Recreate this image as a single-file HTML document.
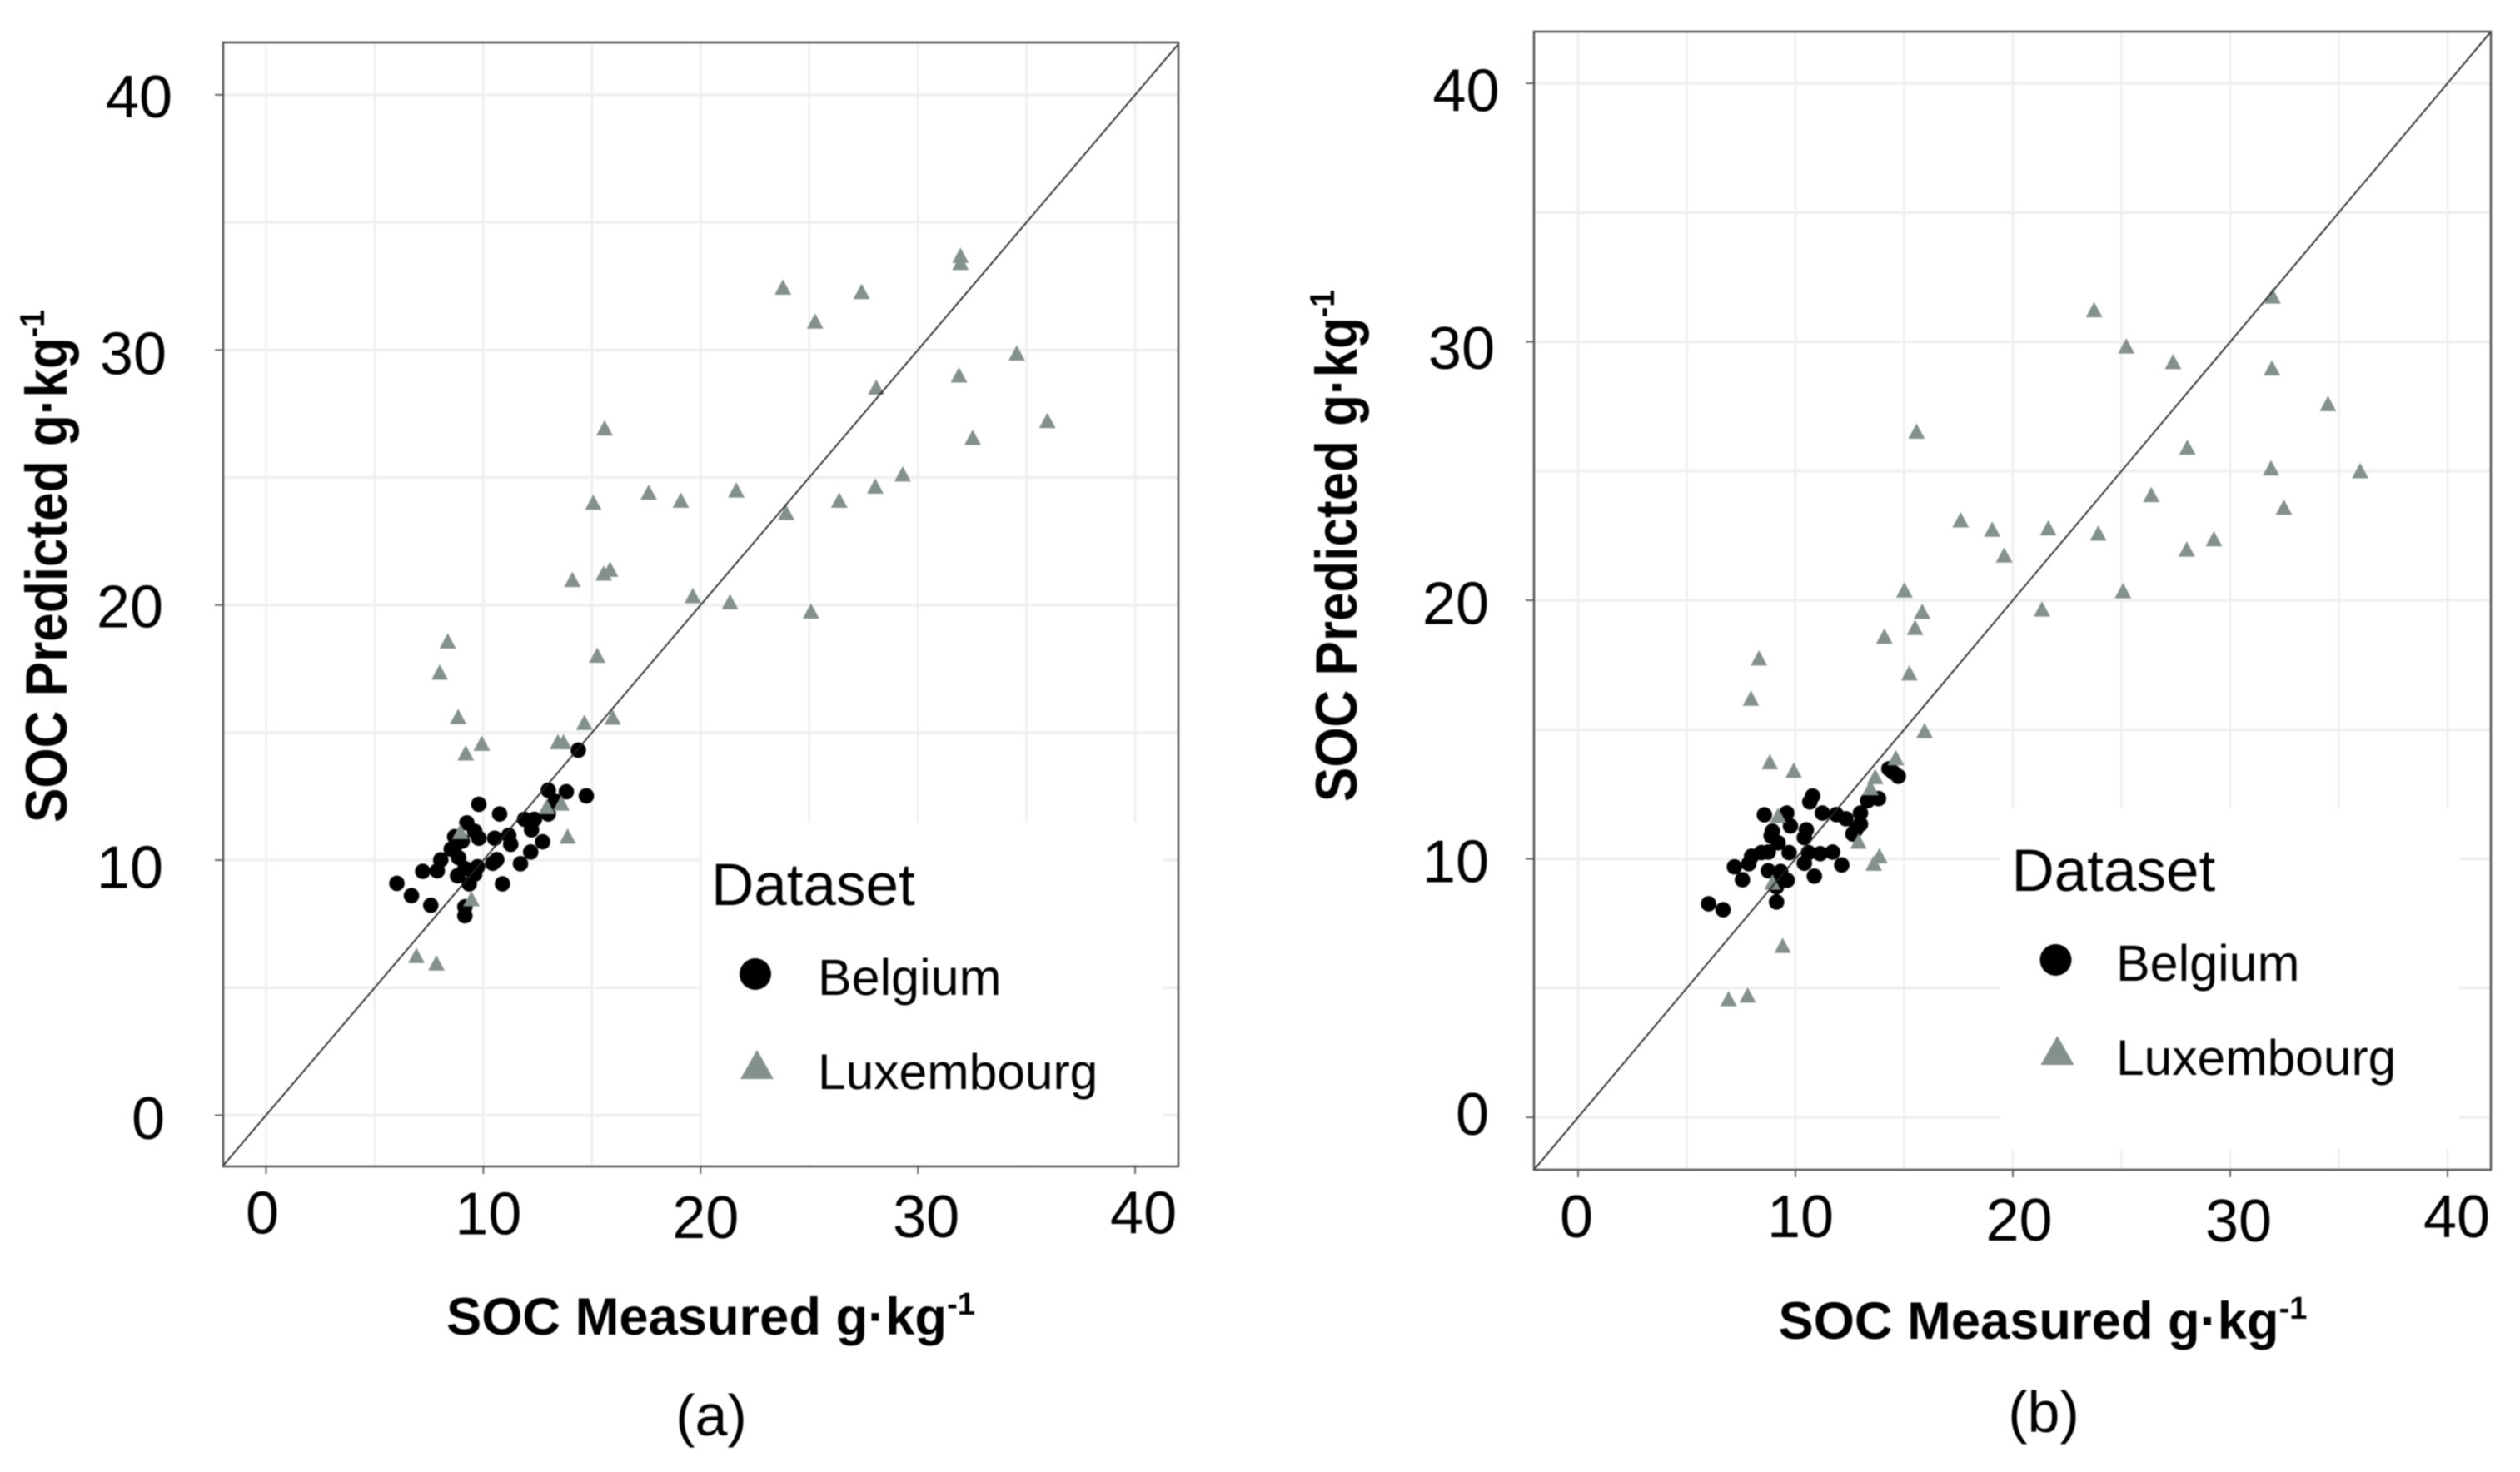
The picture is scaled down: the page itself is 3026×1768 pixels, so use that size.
<!DOCTYPE html>
<html lang="en">
<head>
<meta charset="utf-8">
<title>SOC measured vs predicted</title>
<style>
html,body{margin:0;padding:0;background:#fff;}
svg{display:block;filter:blur(0.7px);}
text{font-family:"Liberation Sans",sans-serif;fill:#000;}
</style>
</head>
<body>
<svg id="chart" xmlns="http://www.w3.org/2000/svg" width="3026" height="1768" viewBox="0 0 3026 1768">
<rect width="3026" height="1768" fill="#fff"/>
<g id="panel-a"></g>
<g id="panel-b"></g>
</svg>
<script>
// ---------- data ----------
const axisTicks = [0, 10, 20, 30, 40];
const gridValues = [0, 5, 10, 15, 20, 25, 30, 35, 40];

const belgiumAX = [6.02,6.69,7.58,7.21,7.88,8.04,8.52,8.68,8.77,9.03,8.86,8.81,9.15,9.47,9.73,9.60,9.35,9.15,9.15,9.79,9.24,9.60,9.79,10.52,10.75,11.17,11.26,10.62,10.43,10.88,11.71,12.18,12.73,11.90,12.35,12.22,12.99,12.99,13.82,13.31,14.74,14.37];
const belgiumAY = [9.09,8.61,8.23,9.56,9.58,10.01,10.43,10.92,10.65,10.75,10.10,9.39,9.67,9.61,9.74,9.45,9.07,8.17,7.82,12.19,11.46,11.13,10.86,10.86,11.81,10.97,10.62,10.02,9.88,9.07,9.86,10.32,10.72,11.60,11.60,11.19,11.81,12.74,12.68,12.30,12.52,14.31];
const luxembourgAX = [31.96,31.96,23.79,27.41,25.27,34.55,31.89,28.08,15.58,35.96,32.52,29.30,28.04,17.61,21.64,19.09,15.06,26.38,23.94,14.10,15.54,15.83,19.64,21.35,25.08,8.36,15.24,7.99,8.84,14.65,15.95,9.19,9.93,13.43,13.69,12.92,13.59,13.88,8.94,9.45,6.92,7.84];
const luxembourgAY = [33.69,33.41,32.44,32.27,31.11,29.86,29.00,28.52,26.92,27.21,26.55,25.12,24.64,24.40,24.49,24.09,24.01,24.09,23.61,20.98,21.23,21.38,20.35,20.11,19.74,18.57,18.01,17.35,15.61,15.38,15.59,14.18,14.56,14.62,14.62,12.08,12.22,10.92,11.10,8.47,6.24,5.95];

const belgiumBX = [6.00,6.67,7.19,7.56,7.85,7.98,8.43,8.75,8.57,9.60,9.77,8.94,8.88,9.20,9.71,8.75,9.32,9.20,9.62,9.13,9.13,10.41,10.60,11.14,11.71,12.13,10.87,10.50,10.41,10.79,10.66,11.24,11.88,12.32,12.99,12.99,12.77,12.64,13.32,13.82,14.30,14.50,14.73];
const belgiumBY = [8.26,8.03,9.69,9.19,9.81,10.10,10.24,10.26,11.70,11.77,11.27,11.07,10.89,10.62,10.24,9.54,9.51,9.30,9.17,8.92,8.33,9.83,10.24,10.20,10.26,9.76,9.33,11.12,10.82,12.43,12.20,11.77,11.71,11.55,11.77,11.34,11.12,10.96,12.25,12.33,13.48,13.34,13.19];
const luxembourgBX = [31.95,23.74,25.22,27.37,31.92,34.50,15.57,28.03,31.88,35.98,26.37,32.47,17.60,19.05,21.63,23.93,29.25,28.00,19.60,15.01,25.07,21.34,15.83,15.50,14.09,8.32,15.24,7.95,15.94,8.82,9.92,14.62,13.67,13.45,9.20,12.90,13.86,13.60,8.94,9.41,6.92,7.80];
const luxembourgBY = [31.75,31.22,29.82,29.21,28.97,27.59,26.52,25.90,25.10,24.99,24.07,23.58,23.09,22.73,22.78,22.58,22.36,21.96,21.73,20.38,20.35,19.64,19.55,18.93,18.59,17.75,17.17,16.19,14.94,13.73,13.40,13.89,13.16,12.73,11.66,10.66,10.10,9.81,9.08,6.63,4.57,4.71];

// ---------- layout ----------
const NS = 'http://www.w3.org/2000/svg';
const panelA = {
  root: 'panel-a', caption: '(a)',
  belgiumX: belgiumAX, belgiumY: belgiumAY, luxX: luxembourgAX, luxY: luxembourgAY,
  left: 268, right: 1415, top: 51, bottom: 1401,
  x0: 319.5, xUnit: 26.09, y0: 1339.5, yUnit: 30.64,
  legendBox: [843, 988, 553, 410],
  yLabelRight: [198, 196, 196, 200, 207],
  yLabelDrop: [28.5, 33.5, 27, 29, 27],
  xLabelShift: [-4.5, 6, 6, 10, 10],
  xLabelBase: [1481.5, 1482.5, 1487, 1486, 1481.5],
  xTitle: [536, 1603, 635], yTitle: [80, 988, 616], captionPos: [854, 1724],
  legend: { titleX: 854, titleY: 1087, labelX: 982, belgiumY: 1195, luxY: 1308, circle: [907, 1170], tri: [909, 1279] }
};
const panelB = {
  root: 'panel-b', caption: '(b)',
  belgiumX: belgiumBX, belgiumY: belgiumBY, luxX: luxembourgBX, luxY: luxembourgBY,
  left: 1842, right: 2991, top: 38, bottom: 1405,
  x0: 1895, xUnit: 26.1, y0: 1342, yUnit: 31.05,
  legendBox: [2401, 971, 552, 409],
  yLabelRight: [1788, 1788, 1788, 1795, 1800.5],
  yLabelDrop: [21, 28, 28.6, 32.5, 33.6],
  xLabelShift: [-2, 6, 7.5, 10, 11],
  xLabelBase: [1486, 1486, 1490, 1491, 1486],
  xTitle: [2135.5, 1608, 635], yTitle: [1629, 963, 615], captionPos: [2454, 1720],
  legend: { titleX: 2415.5, titleY: 1070, labelX: 2541, belgiumY: 1178, luxY: 1291, circle: [2468.5, 1153], tri: [2470.5, 1262] }
};

function make(parent, tag, attrs, text) {
  const el = document.createElementNS(NS, tag);
  for (const k in attrs) el.setAttribute(k, attrs[k]);
  if (text !== undefined) el.textContent = text;
  parent.appendChild(el);
  return el;
}

function trianglePoints(cx, cy, halfW, up, down) {
  return (cx - halfW) + ',' + (cy + down) + ' ' + (cx + halfW) + ',' + (cy + down) + ' ' + cx + ',' + (cy - up);
}

function drawPanel(p) {
  const root = document.getElementById(p.root);
  const sx = v => p.x0 + p.xUnit * v;
  const sy = v => p.y0 - p.yUnit * v;

  // gridlines
  gridValues.forEach(v => {
    const gx = make(root, 'line', { x1: sx(v), x2: sx(v), y1: p.top, y2: p.bottom, stroke: '#eeeeee', 'stroke-width': 2.5 });
    
    
    const gy = make(root, 'line', { x1: p.left, x2: p.right, y1: sy(v), y2: sy(v), stroke: '#efefef', 'stroke-width': 3.5 });
    
    
  });

  // legend background
  const lb = make(root, 'rect', { x: p.legendBox[0], y: p.legendBox[1], width: p.legendBox[2], height: p.legendBox[3], fill: '#fff' });
  
  

  // ticks and tick labels
  axisTicks.forEach((v, i) => {
    const ty = make(root, 'line', { x1: p.left - 10, x2: p.left, y1: sy(v), y2: sy(v), stroke: '#666', 'stroke-width': 2 });
    
    
    const tx = make(root, 'line', { x1: sx(v), x2: sx(v), y1: p.bottom, y2: p.bottom + 9, stroke: '#666', 'stroke-width': 2 });
    
    
    const ly = make(root, 'text', { x: p.yLabelRight[i], y: sy(v) + p.yLabelDrop[i], 'text-anchor': 'end', 'font-size': 72 }, String(v));
    
    
    const lx = make(root, 'text', { x: sx(v) + p.xLabelShift[i], y: p.xLabelBase[i], 'text-anchor': 'middle', 'font-size': 72 }, String(v));
    
    
  });

  // Belgium points
  p.belgiumX.forEach((x, i) => {
    const c = make(root, 'circle', { cx: sx(x), cy: sy(p.belgiumY[i]), r: 9.3, fill: '#000' });
    
    
  });

  // Luxembourg points
  p.luxX.forEach((x, i) => {
    const t = make(root, 'polygon', { points: trianglePoints(sx(x), sy(p.luxY[i]), 10, 10, 8.5), fill: '#84918a' });
    
    
  });

  // identity line
  const lo = (p.left - p.x0) / p.xUnit;
  const hi = (p.right - p.x0) / p.xUnit;
  const d = make(root, 'line', { x1: sx(lo), y1: sy(lo), x2: sx(hi), y2: sy(hi), stroke: '#222', 'stroke-width': 1.8 });
  
  

  // border
  const b = make(root, 'rect', { x: p.left, y: p.top, width: p.right - p.left, height: p.bottom - p.top, fill: 'none', stroke: '#555', 'stroke-width': 2.5 });
  
  

  // legend
  const L = p.legend;
  const lt = make(root, 'text', { x: L.titleX, y: L.titleY, 'font-size': 71 }, 'Dataset');
  
  
  const lc = make(root, 'ellipse', { cx: L.circle[0], cy: L.circle[1], rx: 19, ry: 19, fill: '#000' });
  
  
  const lbt = make(root, 'text', { x: L.labelX, y: L.belgiumY, 'font-size': 61 }, 'Belgium');
  
  
  const ltr = make(root, 'polygon', { points: trianglePoints(L.tri[0], L.tri[1], 20, 18, 17), fill: '#84918a' });
  
  
  const llt = make(root, 'text', { x: L.labelX, y: L.luxY, 'font-size': 60.5 }, 'Luxembourg');
  
  

  // x-axis title
  const xt = make(root, 'text', { x: p.xTitle[0], y: p.xTitle[1], 'font-size': 63, 'font-weight': 'bold', textLength: p.xTitle[2], lengthAdjust: 'spacingAndGlyphs' });
  
  
  xt.appendChild(document.createTextNode('SOC Measured g·kg'));
  make(xt, 'tspan', { 'font-size': 38, dy: -24 }, '-1');

  // y-axis title
  const yt = make(root, 'text', { transform: 'translate(' + p.yTitle[0] + ',' + p.yTitle[1] + ') rotate(-90) scale(1,1.17)', x: 0, y: 0, 'font-size': 60, 'font-weight': 'bold', textLength: p.yTitle[2], lengthAdjust: 'spacingAndGlyphs' });
  
  
  yt.appendChild(document.createTextNode('SOC Predicted g·kg'));
  make(yt, 'tspan', { 'font-size': 36, dy: -23 }, '-1');

  // caption
  const cap = make(root, 'text', { x: p.captionPos[0], y: p.captionPos[1], 'text-anchor': 'middle', 'font-size': 70 }, p.caption);
  
  
}

drawPanel(panelA);
drawPanel(panelB);
</script>
</body>
</html>
